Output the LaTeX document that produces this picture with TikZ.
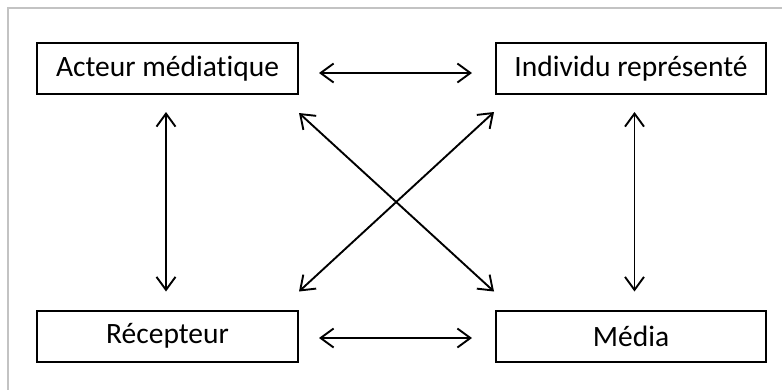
\documentclass[tikz,border=0pt]{standalone}
\usepackage{fontspec}
\setmainfont{Carlito}[Ligatures=NoCommon]
\usetikzlibrary{arrows.meta}
\begin{document}
\begin{tikzpicture}[x=1pt,y=-1pt,
  boxl/.style={draw=black,line width=2pt,minimum width=261pt,minimum height=51pt,inner sep=0pt,font=\fontsize{29.5}{34}\selectfont},
  boxr/.style={boxl,minimum width=270pt},
  arr/.style={line width=1.9pt,{Straight Barb[length=13pt,width=19pt,line width=1.9pt]}-{Straight Barb[length=13pt,width=19pt,line width=1.9pt]}}]
\useasboundingbox (0,0) rectangle (782,389);
\draw[line width=2pt,color={rgb,255:red,195;green,195;blue,195}] (8,400) -- (8,8) -- (790,8);
\node[boxl] (a) at (167.5,68.5) {Acteur médiatique};
\node[boxr] (i) at (631,68.5) {Individu représenté};
\node[boxl] (r) at (167.5,336) {Récepteur};
\node[boxr] (m) at (631,336) {Média};
\draw[arr] ([shift={(20,4.5)}]a.east) -- ([shift={(-23,4.5)}]i.west);
\draw[arr] ([shift={(20,2)}]r.east) -- ([shift={(-23,2)}]m.west);
\draw[arr] ([shift={(-1.5,17)}]a.south) -- ([shift={(-1.5,-18)}]r.north);
\draw[arr] ([shift={(3.5,17)}]i.south) -- ([shift={(3.5,-18)}]m.north);
\draw[arr] ([shift={(0,18)}]a.south east) -- ([shift={(-1,-18)}]m.north west);
\draw[arr] ([shift={(-1,17)}]i.south west) -- ([shift={(0,-18)}]r.north east);
\end{tikzpicture}
\end{document}
